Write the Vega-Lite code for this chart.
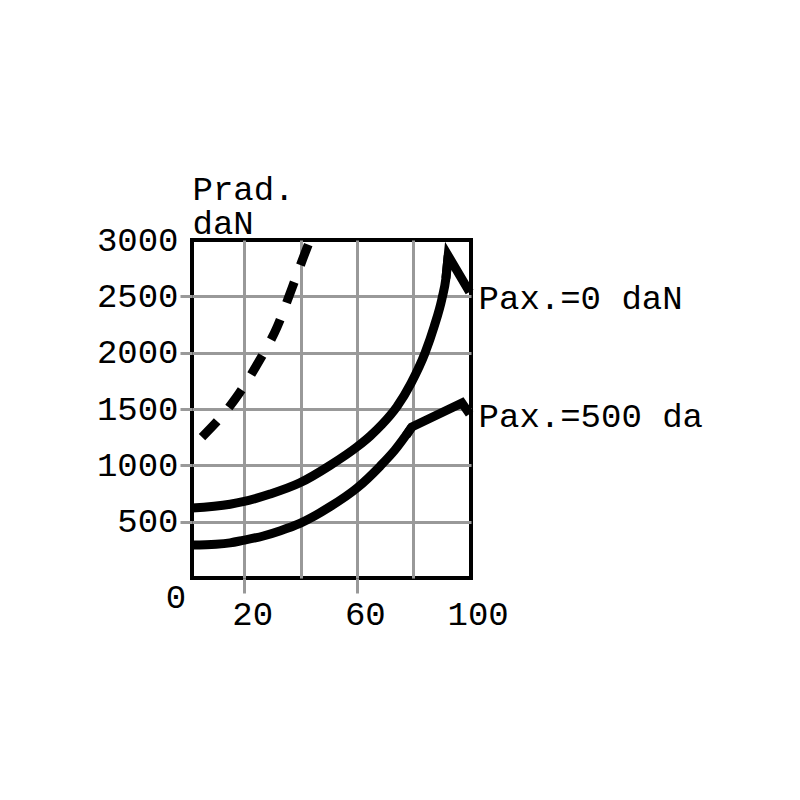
{
  "$schema": "https://vega.github.io/schema/vega-lite/v6.json",
  "width": 279,
  "height": 338,
  "autosize": "none",
  "padding": {"left": 192, "top": 240, "right": 329, "bottom": 222},
  "background": "white",
  "config": {
    "view": {"stroke": "black", "strokeWidth": 4},
    "font": "Liberation Mono"
  },
  "data": {
    "values": [
      {"s": "p0", "part": "smooth", "x": 1.5, "y": 621},
      {"s": "p0", "part": "smooth", "x": 15, "y": 655},
      {"s": "p0", "part": "smooth", "x": 19.6, "y": 677},
      {"s": "p0", "part": "smooth", "x": 29.2, "y": 745},
      {"s": "p0", "part": "smooth", "x": 39.8, "y": 845},
      {"s": "p0", "part": "smooth", "x": 50.5, "y": 1000},
      {"s": "p0", "part": "smooth", "x": 60.1, "y": 1165},
      {"s": "p0", "part": "smooth", "x": 64.7, "y": 1260},
      {"s": "p0", "part": "smooth", "x": 68.9, "y": 1362},
      {"s": "p0", "part": "smooth", "x": 74.2, "y": 1520},
      {"s": "p0", "part": "smooth", "x": 79.2, "y": 1728},
      {"s": "p0", "part": "smooth", "x": 84.2, "y": 1998},
      {"s": "p0", "part": "smooth", "x": 87.4, "y": 2230},
      {"s": "p0", "part": "smooth", "x": 90.2, "y": 2480},
      {"s": "p0", "part": "smooth", "x": 91.6, "y": 2660},
      {"s": "p0", "part": "smooth", "x": 92.4, "y": 2860},
      {"s": "p0", "part": "tip", "x": 91.6, "y": 2660},
      {"s": "p0", "part": "tip", "x": 92.4, "y": 2860},
      {"s": "p0", "part": "tip", "x": 100, "y": 2538},
      {"s": "p500", "part": "smooth", "x": 1.5, "y": 293},
      {"s": "p500", "part": "smooth", "x": 10, "y": 300},
      {"s": "p500", "part": "smooth", "x": 15, "y": 312},
      {"s": "p500", "part": "smooth", "x": 19.6, "y": 334},
      {"s": "p500", "part": "smooth", "x": 26.8, "y": 373},
      {"s": "p500", "part": "smooth", "x": 32.9, "y": 420},
      {"s": "p500", "part": "smooth", "x": 39.8, "y": 485},
      {"s": "p500", "part": "smooth", "x": 50.5, "y": 633},
      {"s": "p500", "part": "smooth", "x": 60.1, "y": 800},
      {"s": "p500", "part": "smooth", "x": 68.3, "y": 994},
      {"s": "p500", "part": "smooth", "x": 73.5, "y": 1136},
      {"s": "p500", "part": "smooth", "x": 79.5, "y": 1340},
      {"s": "p500", "part": "tip", "x": 77.5, "y": 1265},
      {"s": "p500", "part": "tip", "x": 79.5, "y": 1340},
      {"s": "p500", "part": "tip", "x": 97.3, "y": 1553},
      {"s": "p500", "part": "tip", "x": 100, "y": 1456},
      {"s": "dash", "part": "dash", "x": 5.05, "y": 1251},
      {"s": "dash", "part": "dash", "x": 17.1, "y": 1598},
      {"s": "dash", "part": "dash", "x": 24.9, "y": 1908},
      {"s": "dash", "part": "dash", "x": 31.7, "y": 2228},
      {"s": "dash", "part": "dash", "x": 37.0, "y": 2574},
      {"s": "dash", "part": "dash", "x": 42.0, "y": 2911},
      {"s": "dash", "part": "dash", "x": 43.4, "y": 3000},
      {"s": "lab", "part": "lab", "x": 100, "y": 2388, "label": "Pax.=0 daN"},
      {"s": "lab", "part": "lab", "x": 100, "y": 1343, "label": "Pax.=500 da"},
      {"s": "zero", "part": "zero", "x": 1.5, "y": 0, "label": "0"}
    ]
  },
  "encoding": {
    "x": {
      "field": "x",
      "type": "quantitative",
      "scale": {"domain": [1.5, 100.5], "nice": false, "zero": false},
      "axis": {
        "values": [20, 40, 60, 80, 100],
        "format": "d",
        "title": null,
        "domain": false,
        "grid": true,
        "gridColor": "#999999",
        "gridWidth": 3,
        "gridOpacity": {"condition": {"test": "datum.value === 100", "value": 0}, "value": 1},
        "ticks": true,
        "tickSize": 15,
        "tickWidth": 3,
        "tickColor": "#999999",
        "tickOpacity": {"condition": {"test": "datum.value === 40 || datum.value === 80 || datum.value === 100", "value": 0}, "value": 1},
        "labelOpacity": {"condition": {"test": "datum.value === 40 || datum.value === 80", "value": 0}, "value": 1},
        "labelFont": "Liberation Mono",
        "labelFontSize": 34,
        "labelColor": "black",
        "labelPadding": 4,
        "labelOffset": 8,
        "labelFlush": false,
        "labelOverlap": false,
        "labelBound": false
      }
    },
    "y": {
      "field": "y",
      "type": "quantitative",
      "scale": {"domain": [0, 3000], "nice": false},
      "axis": {
        "values": [500, 1000, 1500, 2000, 2500, 3000],
        "format": "d",
        "domain": false,
        "grid": true,
        "gridColor": "#999999",
        "gridWidth": 3,
        "gridOpacity": {"condition": {"test": "datum.value === 3000", "value": 0}, "value": 1},
        "ticks": true,
        "tickSize": 12,
        "tickWidth": 3,
        "tickColor": "#999999",
        "tickOpacity": {"condition": {"test": "datum.value === 3000", "value": 0}, "value": 1},
        "labelFont": "Liberation Mono",
        "labelFontSize": 34,
        "labelColor": "black",
        "labelPadding": 2,
        "labelFlush": false,
        "labelOverlap": false,
        "labelBound": false,
        "title": ["Prad.", "daN"],
        "titleFont": "Liberation Mono",
        "titleFontSize": 34,
        "titleFontWeight": "normal",
        "titleColor": "black",
        "titleAngle": 0,
        "titleAlign": "left",
        "titleBaseline": "alphabetic",
        "titleLineHeight": 34,
        "titleX": 0,
        "titleY": -41
      }
    }
  },
  "layer": [
    {
      "transform": [{"filter": "datum.part === 'smooth'"}],
      "mark": {"type": "line", "color": "black", "strokeWidth": 9, "strokeJoin": "miter", "strokeCap": "butt", "interpolate": "monotone"},
      "encoding": {"detail": {"field": "s"}}
    },
    {
      "transform": [{"filter": "datum.part === 'tip'"}],
      "mark": {"type": "line", "color": "black", "strokeWidth": 9, "strokeJoin": "miter", "strokeMiterLimit": 10, "strokeCap": "butt"},
      "encoding": {"detail": {"field": "s"}}
    },
    {
      "transform": [{"filter": "datum.part === 'dash'"}],
      "mark": {"type": "line", "color": "black", "strokeWidth": 9, "strokeCap": "butt", "strokeDash": [22, 18], "interpolate": "monotone"}
    },
    {
      "transform": [{"filter": "datum.part === 'lab'"}],
      "mark": {"type": "text", "font": "Liberation Mono", "fontSize": 34, "color": "black", "align": "left", "baseline": "alphabetic", "dx": 9},
      "encoding": {"text": {"field": "label"}}
    },
    {
      "transform": [{"filter": "datum.part === 'zero'"}],
      "mark": {"type": "text", "font": "Liberation Mono", "fontSize": 34, "color": "black", "align": "center", "baseline": "alphabetic", "dx": -16, "dy": 30},
      "encoding": {"text": {"field": "label"}}
    }
  ]
}
